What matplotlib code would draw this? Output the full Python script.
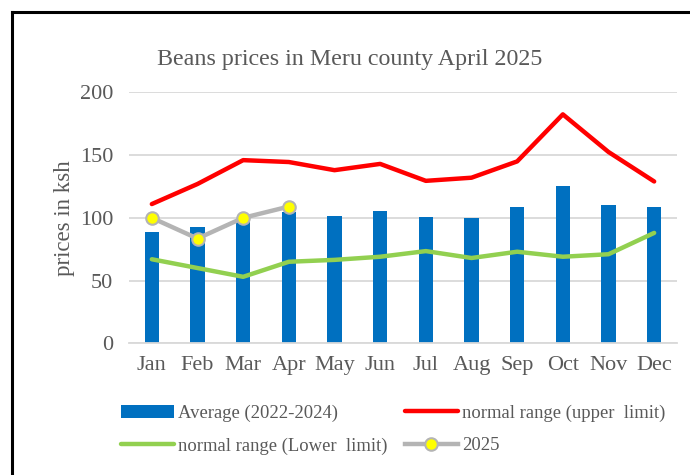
import matplotlib
matplotlib.use("Agg")
import matplotlib.pyplot as plt
from matplotlib.lines import Line2D
import numpy as np

months = ["Jan", "Feb", "Mar", "Apr", "May", "Jun", "Jul", "Aug", "Sep", "Oct", "Nov", "Dec"]
average = [89, 92.5, 98, 104.5, 101.5, 105.5, 101, 99.5, 108.5, 125.5, 110.5, 108.5]
upper = [111, 127, 146, 144.5, 138, 143, 129.5, 132, 145, 182.5, 152.5, 129]
lower = [67, 60, 53, 65, 66.5, 69, 73.5, 68, 73, 69, 71, 88]
y2025 = [100, 83.5, 100, 109]

W, H = 690, 475
fig = plt.figure(figsize=(W / 100, H / 100), dpi=100)
plt.rcParams['font.family'] = ['Liberation Serif', 'DejaVu Serif']
txt = "#595959"

ax = fig.add_axes([129 / W, (H - 343.3) / H, (677 - 129) / W, (343.3 - 92.4) / H])
x = np.arange(len(months))
hb = ax.bar(x, average, width=0.31, color="#0070C0", label="Average (2022-2024)", zorder=2)
hu, = ax.plot(x, upper, color="#FF0000", lw=3.2, label="normal range (upper  limit)", zorder=3,
              solid_capstyle="round")
hl, = ax.plot(x, lower, color="#92D050", lw=3.2, label="normal range (Lower  limit)", zorder=3,
              solid_capstyle="round")
h25, = ax.plot(x[:len(y2025)], y2025, color="#B4B4B4", lw=3.2, marker="o", markersize=9,
               markerfacecolor="#FFFF00", markeredgecolor="#B4B4B4", markeredgewidth=1.5,
               label="2025", zorder=4)

ax.set_xlim(-0.5, 11.5)
ax.set_ylim(0, 200)
ax.set_yticks([0, 50, 100, 150, 200])
ax.set_xticks(x)
ax.set_xticklabels(months)
ax.yaxis.grid(True, color="#D9D9D9", lw=1.3, zorder=0)
ax.set_axisbelow(True)
for s in ["top", "right", "left"]:
    ax.spines[s].set_visible(False)
ax.spines["bottom"].set_color("#D9D9D9")
ax.spines["bottom"].set_linewidth(1.3)
ax.tick_params(axis="both", length=0, labelsize=16, colors=txt)
ax.tick_params(axis="x", pad=9)
ax.tick_params(axis="y", pad=11.5)
ax.set_ylabel("prices in ksh", fontsize=16.5, color=txt, labelpad=3)

fig.text(350 / W, (H - 60) / H, "Beans prices in Meru county April 2025", fontsize=17.3,
         color=txt, ha="center", va="center")

hs = [hb, hl, hu, h25]
ls = [h.get_label() for h in hs]
leg = fig.legend(hs, ls, ncol=2, loc="center left", bbox_to_anchor=(121 / W, (H - 429.5) / H),
                 frameon=False, fontsize=13.4, handlelength=2.85, columnspacing=0.95,
                 handletextpad=0.2, labelspacing=0.85, borderpad=0, borderaxespad=0)
for t in leg.get_texts():
    t.set_color(txt)

# outer border (top and left visible)
fig.add_artist(Line2D([11.5 / W, 1.0], [(H - 12) / H, (H - 12) / H], color="black", lw=2.2,
                      transform=fig.transFigure))
fig.add_artist(Line2D([11.5 / W, 11.5 / W], [0, (H - 12) / H], color="black", lw=2.2,
                      transform=fig.transFigure))

fig.savefig("out.png", dpi=100)
